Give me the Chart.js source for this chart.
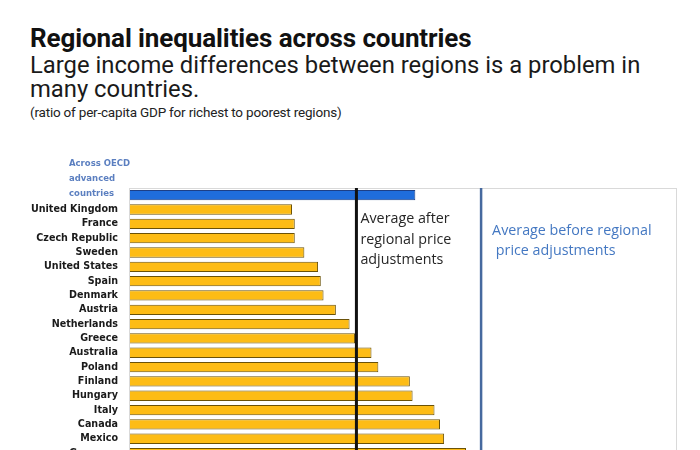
<!DOCTYPE html>
<html>
<head>
<meta charset="utf-8">
<script src="https://cdn.jsdelivr.net/npm/chart.js@4/dist/chart.umd.min.js"></script>
<style>
  html, body { margin:0; padding:0; width:700px; height:450px; overflow:hidden; background:#fff; }
  .t { position:absolute; left:30px; white-space:nowrap; color:#111; font-family:Roboto, sans-serif; }
  #title { top:24px; font-size:26px; font-weight:700; line-height:28px; letter-spacing:-0.1px; }
  #sub { top:54px; font-size:23.8px; font-weight:400; line-height:23.5px; color:#1a1a1a; }
  #note { top:105px; font-size:13.5px; line-height:15px; color:#222; letter-spacing:-0.2px; }
  #wrap { position:absolute; left:0; top:140px; width:700px; height:337px; }
</style>
</head>
<body>
<div class="t" id="title">Regional inequalities across countries</div>
<div class="t" id="sub">Large income differences between regions is a problem in<br>many countries.</div>
<div class="t" id="note">(ratio of per-capita GDP for richest to poorest regions)</div>
<div id="wrap"><canvas id="c"></canvas></div>
<script>
// ---- data (ratio; no axis ticks shown) ----
const categories = ['Across OECD advanced countries', 'United Kingdom', 'France', 'Czech Republic', 'Sweden',
  'United States', 'Spain', 'Denmark', 'Austria', 'Netherlands', 'Greece', 'Australia', 'Poland',
  'Finland', 'Hungary', 'Italy', 'Canada', 'Mexico', 'Germany'];
const ratios = [2.09, 1.19, 1.21, 1.21, 1.28, 1.38, 1.40, 1.42, 1.51, 1.61, 1.65, 1.77, 1.82,
  2.05, 2.07, 2.23, 2.27, 2.30, 2.46];
const oecdLabelLines = ['Across OECD', 'advanced', 'countries'];
const avgAfterAdjust = 1.66;
const avgBeforeAdjust = 2.57;
const annotAfter = ['Average after', 'regional price', 'adjustments'];
const annotBefore = ['Average before regional', ' price adjustments'];

const overlay = {
  id: 'overlay',
  afterDatasetsDraw(chart) {
    const { ctx, chartArea: a, scales: { x, y } } = chart;
    ctx.save();
    // frame
    ctx.strokeStyle = '#d9d9d9';
    ctx.lineWidth = 1;
    ctx.strokeRect(a.left + 0.5, a.top + 0.5, a.right - a.left - 1, a.bottom - a.top);
    // average lines
    const xa = x.getPixelForValue(avgAfterAdjust);
    const xb = x.getPixelForValue(avgBeforeAdjust);
    ctx.strokeStyle = '#111';
    ctx.lineWidth = 3;
    ctx.beginPath(); ctx.moveTo(xa, a.top); ctx.lineTo(xa, a.bottom + 40); ctx.stroke();
    ctx.strokeStyle = '#46699f';
    ctx.lineWidth = 2.5;
    ctx.beginPath(); ctx.moveTo(xb, a.top); ctx.lineTo(xb, a.bottom + 40); ctx.stroke();
    // annotations
    ctx.font = '14.3px "Open Sans", sans-serif';
    ctx.textBaseline = 'middle';
    ctx.textAlign = 'left';
    ctx.fillStyle = '#262626';
    annotAfter.forEach((s, i) => ctx.fillText(s, xa + 4, a.top + 31 + i * 20.5));
    ctx.fillStyle = '#4478c2';
    annotBefore.forEach((s, i) => ctx.fillText(s, xb + 11, a.top + 43 + i * 20));
    // OECD multi-line label
    const y0 = y.getPixelForTick(0);
    ctx.font = 'bold 8.5px "DejaVu Sans", sans-serif';
    ctx.fillStyle = '#5b7fc0';
    const n = oecdLabelLines.length;
    oecdLabelLines.forEach((s, i) => ctx.fillText(s, 69, y0 - 1 - (n - 1 - i) * 15));
    ctx.restore();
  }
};

new Chart(document.getElementById('c'), {
  type: 'bar',
  data: {
    labels: categories,
    datasets: [{
      data: ratios,
      backgroundColor: ctx => ctx.dataIndex === 0 ? '#1f6ddc' : '#fdbc15',
      borderColor: ctx => ctx.dataIndex === 0 ? '#1d3f86' : '#6a5208',
      borderWidth: 1,
      borderSkipped: 'start',
      barPercentage: 0.72,
      categoryPercentage: 1
    }]
  },
  options: {
    indexAxis: 'y',
    responsive: true,
    maintainAspectRatio: false,
    animation: false,
    layout: { padding: { top: 48, right: 23, bottom: 11, left: 0 } },
    plugins: { legend: { display: false }, tooltip: { enabled: false } },
    scales: {
      x: { display: false, min: 0, max: 4 },
      y: {
        grid: { display: false, drawTicks: false },
        border: { display: false },
        afterFit: s => { s.width = 129; },
        ticks: {
          padding: 11,
          autoSkip: false,
          color: '#1a1a1a',
          font: { family: '"DejaVu Sans", sans-serif', size: 9.6, weight: 'bold' },
          callback: (v, i) => i === 0 ? '' : categories[i]
        }
      }
    }
  },
  plugins: [overlay]
});
</script>
</body>
</html>
